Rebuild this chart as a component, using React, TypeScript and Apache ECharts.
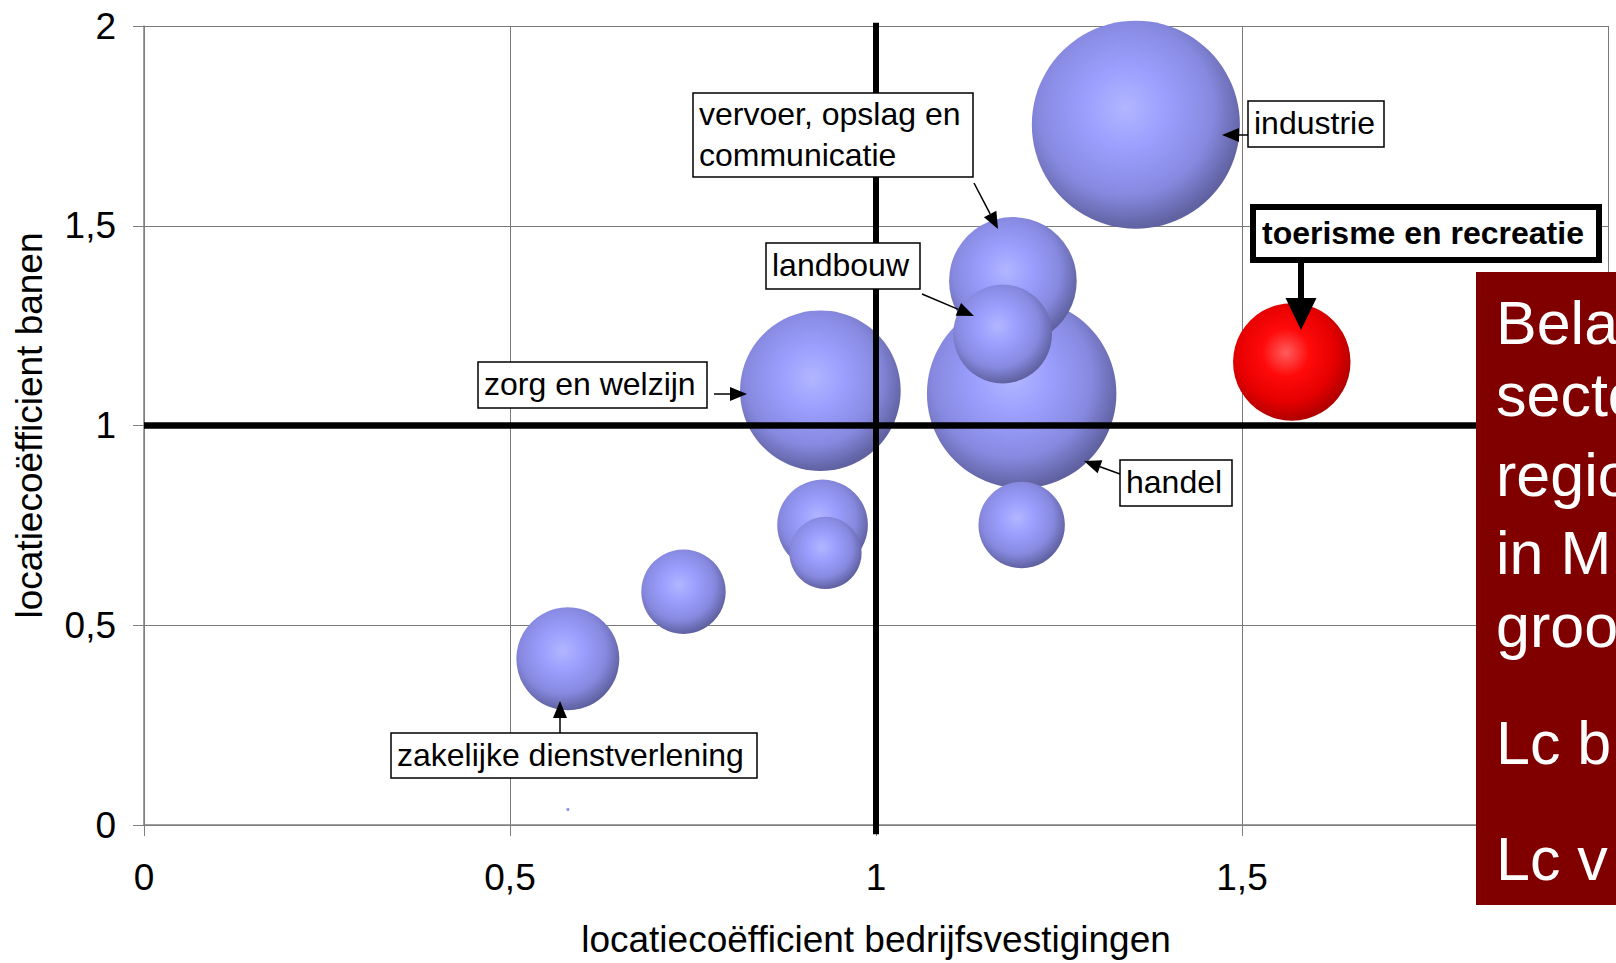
import React, { useEffect, useRef } from "react";
import * as echarts from "echarts";

// ---- data -------------------------------------------------------------
const sectors = [
  "industrie",
  "vervoer, opslag en communicatie",
  "landbouw",
  "handel",
  "zorg en welzijn",
  "toerisme en recreatie",
  "sector 7",
  "sector 8",
  "sector 9",
  "sector 10",
  "zakelijke dienstverlening",
  "sector 12",
];
const lcVestigingen = [1.355, 1.187, 1.173, 1.199, 0.924, 1.568, 1.199, 0.927, 0.931, 0.737, 0.579, 0.579];
const lcBanen = [1.753, 1.362, 1.229, 1.08, 1.087, 1.159, 0.751, 0.751, 0.681, 0.584, 0.416, 0.039];
const bubbleSize = [102, 38.4, 23, 84.6, 60.8, 32.5, 17.6, 19.4, 12.3, 16.8, 25, 0.01];
const highlighted = "toerisme en recreatie";
const axisMin = 0;
const axisMax = 2;
const axisStep = 0.5;
const refValue = 1;
const xTitle = "locatiecoëfficient bedrijfsvestigingen";
const yTitle = "locatiecoëfficient banen";
const panelLines = ["Bela", "secto", "regio", "in M", "groo", "Lc b", "Lc v"];

// ---- annotation layout (pixels) ---------------------------------------
const FONT = '"Liberation Sans", Arial, Helvetica, sans-serif';
const labelBoxes = [
  { text: "vervoer, opslag en\ncommunicatie", x: 693, y: 93, w: 280, h: 84 },
  { text: "industrie", x: 1248, y: 101, w: 136, h: 46 },
  { text: "landbouw", x: 766, y: 243, w: 154, h: 46 },
  { text: "zorg en welzijn", x: 478, y: 362, w: 229, h: 46 },
  { text: "handel", x: 1120, y: 460, w: 112, h: 46 },
  { text: "zakelijke dienstverlening", x: 391, y: 733, w: 366, h: 45 },
];
const arrows = [
  [974, 183, 998, 229],
  [1248, 135, 1222, 135],
  [922, 294, 974, 316],
  [714, 394, 747, 394],
  [1120, 474, 1084, 461],
  [560, 733, 560, 701],
];
const panelBaselines = [344, 416, 496, 574, 647, 764, 880];

function arrow(x1: number, y1: number, x2: number, y2: number, w: number, L: number, W: number) {
  const dx = x2 - x1, dy = y2 - y1;
  const len = Math.sqrt(dx * dx + dy * dy);
  const ux = dx / len, uy = dy / len;
  const bx = x2 - ux * L, by = y2 - uy * L;
  const px = -uy, py = ux;
  return [
    { type: "line", z: 50, shape: { x1, y1, x2: bx, y2: by }, style: { stroke: "#000", lineWidth: w } },
    {
      type: "polygon",
      z: 50,
      shape: { points: [[x2, y2], [bx + px * W / 2, by + py * W / 2], [bx - px * W / 2, by - py * W / 2]] },
      style: { fill: "#000" },
    },
  ];
}

function textEl(text: string, x: number, y: number, size: number, color: string, weight = "normal", lineHeight?: number, z = 51) {
  return {
    type: "text",
    z,
    x,
    y,
    style: {
      text,
      fill: color,
      fontSize: size,
      fontFamily: FONT,
      fontWeight: weight,
      lineHeight: lineHeight || size * 1.2,
      textAlign: "left",
      textVerticalAlign: "middle",
      align: "left",
      verticalAlign: "middle",
    },
  };
}

export default function App() {
  const ref = useRef<HTMLDivElement>(null);
  useEffect(() => {
    if (!ref.current) return;
    const chart = echarts.init(ref.current, null, { renderer: "svg" });

    const blue = () =>
      new echarts.graphic.RadialGradient(0.45, 0.42, 0.58, [
        { offset: 0, color: "#b2b6ff" },
        { offset: 0.35, color: "#9b9efd" },
        { offset: 0.72, color: "#8789e0" },
        { offset: 1, color: "#5f61a0" },
      ]);
    const red = () =>
      new echarts.graphic.RadialGradient(0.45, 0.42, 0.58, [
        { offset: 0, color: "#ff5c5c" },
        { offset: 0.35, color: "#ff0a0a" },
        { offset: 0.72, color: "#e60000" },
        { offset: 1, color: "#b00000" },
      ]);

    const points = sectors
      .map((name, i) => ({
        name,
        value: [lcVestigingen[i], lcBanen[i], bubbleSize[i]],
        itemStyle: { color: name === highlighted ? red() : blue(), opacity: 1 },
      }))
      .sort((a, b) => b.value[2] - a.value[2]);

    const graphics: any[] = [];
    arrows.forEach((a) => graphics.push(...arrow(a[0], a[1], a[2], a[3], 1.5, 17, 14)));
    labelBoxes.forEach((b) => {
      graphics.push({
        type: "rect",
        z: 50,
        shape: { x: b.x, y: b.y, width: b.w, height: b.h },
        style: { fill: "#fff", stroke: "#000", lineWidth: 1.5 },
      });
      graphics.push(textEl(b.text, b.x + 6, b.y + b.h / 2 - 1, 32, "#000", "normal", 41));
    });
    // highlighted label
    graphics.push({
      type: "rect",
      z: 50,
      shape: { x: 1253, y: 207, width: 346, height: 53 },
      style: { fill: "#fff", stroke: "#000", lineWidth: 6 },
    });
    graphics.push(textEl(highlighted, 1262, 233, 32, "#000", "bold"));
    graphics.push(...arrow(1301, 262, 1301, 330, 6, 32, 31));
    // side panel
    graphics.push({
      type: "rect",
      z: 60,
      shape: { x: 1476, y: 272, width: 140, height: 633 },
      style: { fill: "#800000" },
    });
    panelLines.forEach((t, i) => {
      graphics.push({
        type: "text",
        z: 61,
        x: 1496,
        y: panelBaselines[i] + 9,
        style: {
          text: t,
          fill: "#fff",
          fontSize: 61,
          fontFamily: FONT,
          textAlign: "left",
          textVerticalAlign: "bottom",
          align: "left",
          verticalAlign: "bottom",
          lineHeight: 61,
        },
      });
    });

    const fmt = (v: number) => String(v).replace(".", ",");
    const axisCommon = {
      type: "value",
      min: axisMin,
      max: axisMax,
      interval: axisStep,
      nameLocation: "middle",
      nameTextStyle: { fontSize: 37, color: "#000", fontFamily: FONT },
      axisLine: { show: true, onZero: false, lineStyle: { color: "#808080", width: 1.5 } },
      axisTick: { show: true, inside: false, length: 11, lineStyle: { color: "#808080", width: 1 } },
      splitLine: { show: true, lineStyle: { color: "#7a7a7a", width: 1 } },
    };

    chart.setOption({
      animation: false,
      grid: { left: 144, right: 8, top: 26, bottom: 135, containLabel: false },
      xAxis: {
        ...axisCommon,
        name: xTitle,
        nameGap: 96,
        axisLabel: { formatter: fmt, fontSize: 37, color: "#000", fontFamily: FONT, margin: 34, showMaxLabel: false },
      },
      yAxis: {
        ...axisCommon,
        name: yTitle,
        nameGap: 96,
        axisLabel: { formatter: fmt, fontSize: 37, color: "#000", fontFamily: FONT, margin: 28 },
      },
      series: [
        {
          type: "scatter",
          z: 2,
          silent: true,
          symbol: "circle",
          itemStyle: { opacity: 1 },
          symbolSize: (v: number[]) => Math.max(3, 20.6 * Math.sqrt(v[2])),
          data: points,
        },
        {
          type: "line",
          z: 3,
          silent: true,
          clip: false,
          symbol: "none",
          lineStyle: { color: "#000", width: 6 },
          data: [[refValue, axisMin - 0.023], [refValue, axisMax + 0.008]],
        },
        {
          type: "line",
          z: 3,
          silent: true,
          clip: false,
          symbol: "none",
          lineStyle: { color: "#000", width: 6.5 },
          data: [[axisMin, refValue], [axisMax, refValue]],
        },
      ],
      graphic: graphics,
    });
    return () => chart.dispose();
  }, []);
  return (
    <div
      ref={ref}
      style={{ position: "fixed", left: 0, top: 0, width: 1616, height: 963, background: "#fff" }}
    />
  );
}
